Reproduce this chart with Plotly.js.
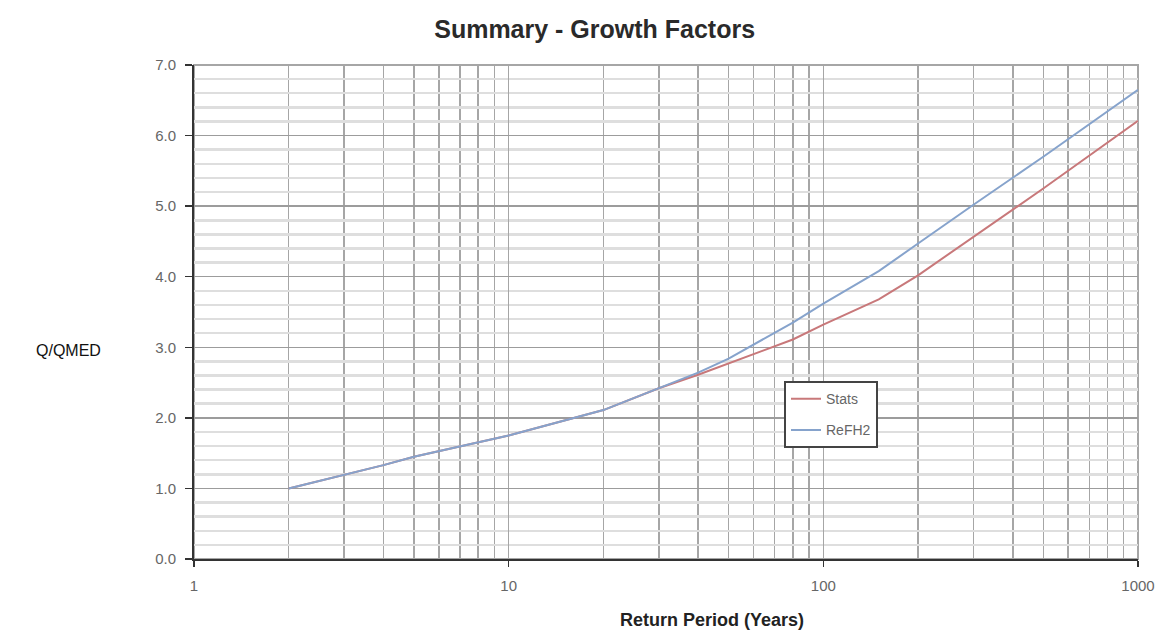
<!DOCTYPE html>
<html>
<head>
<meta charset="utf-8">
<script src="https://cdn.plot.ly/plotly-3.0.1.min.js"></script>
<style>html,body{margin:0;padding:0;background:#fff;}#chart{width:1166px;height:632px;}</style>
</head>
<body>
<div id="chart"></div>
<script>
// Return periods (years)
const returnPeriods = [2, 3, 4, 5, 10, 20, 30, 40, 50, 60, 70, 80, 100, 150, 200, 300, 500, 1000];
// Growth factors Q/QMED
const statsValues = [1.00, 1.19, 1.33, 1.45, 1.75, 2.11, 2.42, 2.61, 2.77, 2.90, 3.01, 3.11, 3.32, 3.68, 4.02, 4.57, 5.25, 6.21];
const refh2Values = [1.00, 1.19, 1.33, 1.45, 1.75, 2.11, 2.42, 2.64, 2.84, 3.04, 3.20, 3.35, 3.62, 4.08, 4.47, 5.02, 5.70, 6.65];
const seriesNames = ["Stats", "ReFH2"];
const xTickVals = [1, 10, 100, 1000];
const xTickText = ['1', '10', '100', '1000'];
const xMinorVals = [2,3,4,5,6,7,8,9,20,30,40,50,60,70,80,90,200,300,400,500,600,700,800,900];

const traces = [
  {x: returnPeriods, y: statsValues, name: seriesNames[0], legendgroup: 'a', mode: 'lines', line: {color: '#c8787a', width: 2}},
  {x: returnPeriods, y: refh2Values, name: seriesNames[1], legendgroup: 'b', mode: 'lines', line: {color: '#86a3cc', width: 2}}
];

const layout = {
  width: 1166, height: 632,
  margin: {l: 194, r: 28, t: 65, b: 73},
  paper_bgcolor: '#ffffff', plot_bgcolor: '#ffffff',
  font: {family: 'Liberation Sans, Arial, sans-serif', color: '#555'},
  title: {text: 'Summary - Growth Factors', font: {size: 25, color: '#2a2a2a', family: 'Liberation Sans, Arial, sans-serif', weight: 'bold'},
          x: 0.51, xanchor: 'center', y: 0.953, yanchor: 'middle', yref: 'container'},
  showlegend: true,
  legend: {x: 0.625, y: 0.36, xanchor: 'left', yanchor: 'top', bgcolor: '#ffffff', bordercolor: '#444', borderwidth: 2,
           font: {size: 14, color: '#666'}, itemwidth: 30, tracegroupgap: 10, traceorder: 'grouped'},
  xaxis: {
    type: 'log', range: [0, 3], tickvals: xTickVals, ticktext: xTickText,
    showgrid: true, gridcolor: '#a6a6a6', gridwidth: 1.5,
    minor: {tickvals: xMinorVals, showgrid: true, gridcolor: '#a6a6a6', gridwidth: 1.5, ticks: ''},
    showline: true, linecolor: '#333', linewidth: 2,
    ticks: 'outside', ticklen: 6, tickcolor: '#333', tickwidth: 1.5, ticklabelstandoff: 6,
    tickfont: {size: 15, color: '#666'}, zeroline: false, fixedrange: true
  },
  yaxis: {
    range: [0, 7], dtick: 1, tick0: 0, tickformat: '.1f',
    showgrid: true, gridcolor: '#9c9c9c', gridwidth: 1.5,
    minor: {dtick: 0.2, showgrid: true, gridcolor: '#dedede', gridwidth: 2.5, ticks: ''},
    showline: true, linecolor: '#333', linewidth: 2,
    ticks: 'outside', ticklen: 7, tickcolor: '#333', tickwidth: 1.5, ticklabelstandoff: 6,
    tickfont: {size: 15, color: '#666'}, zeroline: false, fixedrange: true
  },
  shapes: [
    {type: 'rect', xref: 'paper', yref: 'paper', x0: 0, x1: 1, y0: 0, y1: 1, line: {color: '#a6a6a6', width: 2}, layer: 'below'}
  ],
  annotations: [
    {text: 'Q/QMED', xref: 'paper', yref: 'paper', x: (68-194)/944, y: (559-350)/494, xanchor: 'center', yanchor: 'middle',
     showarrow: false, font: {size: 16, color: '#111'}},
    {text: '<b>Return Period (Years)</b>', xref: 'paper', yref: 'paper', x: (712-194)/944, y: -(620-559)/494, xanchor: 'center', yanchor: 'middle',
     showarrow: false, font: {size: 18, color: '#222'}}
  ]
};

Plotly.newPlot('chart', traces, layout, {displayModeBar: false, staticPlot: true});
</script>
</body>
</html>
